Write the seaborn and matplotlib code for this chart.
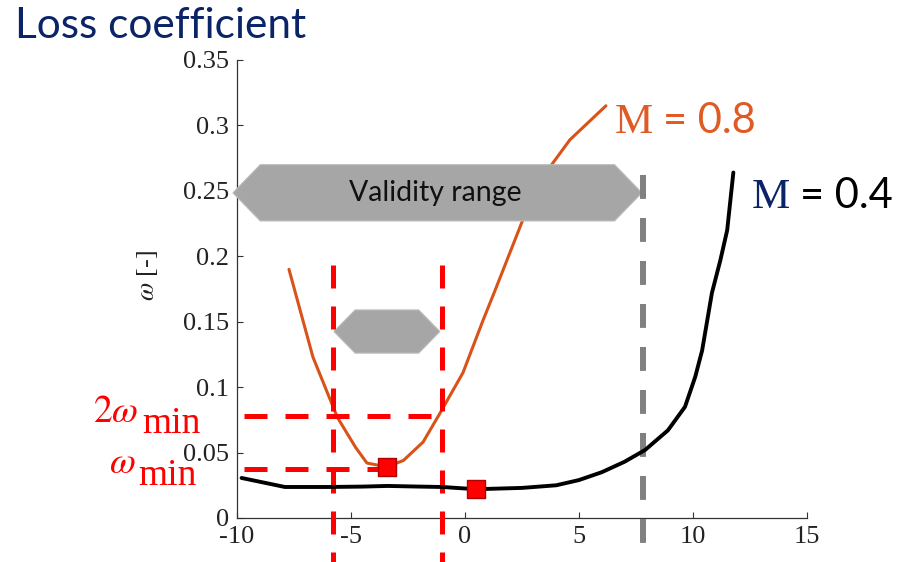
import matplotlib
matplotlib.use("Agg")
import matplotlib.pyplot as plt
from matplotlib.patches import Polygon
import pandas as pd
import seaborn as sns

# Loss coefficient curves, omega vs incidence
m04_x = [-9.8, -7.9, -6.0, -4.5, -3.4, -2.0, -1.0, 0.48, 1.5, 2.5, 4.0, 5.0,
         6.0, 7.0, 7.9, 8.9, 9.65, 10.1, 10.4, 10.83, 11.2, 11.5, 11.77]
m04_w = [0.0306, 0.0237, 0.0237, 0.024, 0.0245, 0.024, 0.0237, 0.022, 0.0225,
         0.023, 0.025, 0.029, 0.035, 0.043, 0.052, 0.067, 0.085, 0.108, 0.128,
         0.172, 0.197, 0.220, 0.264]

m08_x = [-7.72, -6.67, -5.6, -4.8, -4.3, -3.42, -2.7, -1.84, -1.1, -0.09, 0.79,
         1.32, 2.54, 3.8, 4.6, 6.18]
m08_w = [0.190, 0.123, 0.077, 0.054, 0.042, 0.039, 0.044, 0.058, 0.080, 0.111,
         0.151, 0.174, 0.228, 0.270, 0.289, 0.315]

# minimum-loss points
min_x = [-3.42, 0.48]
min_w = [0.039, 0.022]

# low-loss band of the M = 0.8 curve (omega < 2 omega_min)
omega_min = 0.039
band_lo, band_hi = -5.8, -1.0
# upper bound of the validity range
validity_hi = 7.8

x_ticks = [-10, -5, 0, 5, 10, 15]
x_labels = ["-10", "-5", "0", "5", "10", "15"]
y_ticks = [0, 0.05, 0.1, 0.15, 0.2, 0.25, 0.3, 0.35]
y_labels = ["0", "0.05", "0.1", "0.15", "0.2", "0.25", "0.3", "0.35"]

NAVY = "#0B2468"
ORANGE = "#D95319"
ORANGE_TXT = "#E05A24"
RED = "#FF0000"
GREY_FILL = "#A6A6A6"

sns.set_theme(style="ticks")
plt.rcParams["axes.unicode_minus"] = False
plt.rcParams["mathtext.fontset"] = "stix"
plt.rcParams["font.family"] = ["Liberation Serif", "DejaVu Serif"]

fig = plt.figure(figsize=(9.03, 5.62), dpi=100)
W, H = 903.0, 562.0
ax = fig.add_axes([237 / W, 1 - 518 / H, 570 / W, 458 / H])


def fpos(px, py):
    return px / W, 1 - py / H


df04 = pd.DataFrame({"x": m04_x, "w": m04_w})
df08 = pd.DataFrame({"x": m08_x, "w": m08_w})

sns.lineplot(data=df08, x="x", y="w", color=ORANGE, lw=2.2, sort=False,
             estimator=None, ax=ax, zorder=2)

# validity range arrow (hexagon)
def hexagon(x0, x1, yc, hh, dx, **kw):
    pts = [(x0, yc), (x0 + dx, yc + hh), (x1 - dx, yc + hh), (x1, yc),
           (x1 - dx, yc - hh), (x0 + dx, yc - hh)]
    return Polygon(pts, closed=True, clip_on=False, **kw)

ax.add_patch(hexagon(-10.18, validity_hi - 0.04, 0.2485, 0.0215, 1.2,
                     facecolor=GREY_FILL, edgecolor="#BDBDBD", lw=0.8, zorder=3))
ax.text((-10.18 + validity_hi) / 2 - 0.1, 0.2485, "Validity range", ha="center",
        va="center", fontsize=20.5, family="Lato", color="#111111", zorder=4)
ax.add_patch(hexagon(band_lo + 0.05, band_hi - 0.1, 0.1425, 0.0165, 0.93,
                     facecolor=GREY_FILL, edgecolor="#BDBDBD", lw=0.8, zorder=3))

# dashed guide lines
red_dash = dict(color=RED, lw=3.6, linestyle=(0, (4.6, 3.6)), clip_on=False,
                zorder=5)
for xv in (band_lo, band_hi):
    ax.plot([xv, xv], [0.193, -0.04], **red_dash)
ax.plot([-9.7, band_hi], [2 * omega_min, 2 * omega_min], **red_dash)
ax.plot([-9.7, min_x[0]], [omega_min - 0.0015, omega_min - 0.0015], **red_dash)
ax.plot([validity_hi, validity_hi], [0.262, -0.04], color="#808080", lw=4.3,
        linestyle=(0, (4.0, 3.2)), clip_on=False, zorder=4)

sns.lineplot(data=df04, x="x", y="w", color="black", lw=2.8, sort=False,
             estimator=None, ax=ax, zorder=6)
ax.scatter(min_x, min_w, marker="s", s=150, color=RED, edgecolor="#B00000",
           linewidth=1.0, zorder=7, clip_on=False)

ax.set_xlim(-10, 15)
ax.set_ylim(0, 0.35)
ax.set_xticks(x_ticks)
ax.set_xticklabels(x_labels)
ax.set_yticks(y_ticks)
ax.set_yticklabels(y_labels)
ax.tick_params(direction="in", length=4, width=0.8, colors="#333333",
               labelsize=19, labelcolor="#222222", pad=6)
ax.set_xlabel("")
ax.set_ylabel(r"$\omega$ [-]", fontsize=19, color="#222222")
ax.yaxis.set_label_coords(-0.135, 0.53)
for s in ("left", "bottom"):
    ax.spines[s].set_color("#333333")
    ax.spines[s].set_linewidth(0.9)
sns.despine(ax=ax)

# title
fig.text(*fpos(15, 38), "Loss coefficient", fontsize=30.5, family="Lato",
         color=NAVY, va="baseline", ha="left")

# curve labels
fig.text(*fpos(615, 133), "M", fontsize=31, family="Liberation Serif",
         color=ORANGE_TXT, va="baseline")
fig.text(*fpos(663, 133), "= 0.8", fontsize=30, family="Lato",
         color=ORANGE_TXT, va="baseline")
fig.text(*fpos(752, 208), "M", fontsize=31, family="Liberation Serif",
         color=NAVY, va="baseline")
fig.text(*fpos(800, 208), "= 0.4", fontsize=30, family="Lato",
         color="black", va="baseline")

# omega_min annotations
fig.text(*fpos(93, 422), r"$2\omega$", fontsize=27, color=RED, va="baseline")
fig.text(*fpos(142, 433), "min", fontsize=27, family="Liberation Serif",
         color=RED, va="baseline")
fig.text(*fpos(109, 473), r"$\omega$", fontsize=27, color=RED, va="baseline")
fig.text(*fpos(138, 485), "min", fontsize=27, family="Liberation Serif",
         color=RED, va="baseline")

fig.savefig("out.png", dpi=100)
